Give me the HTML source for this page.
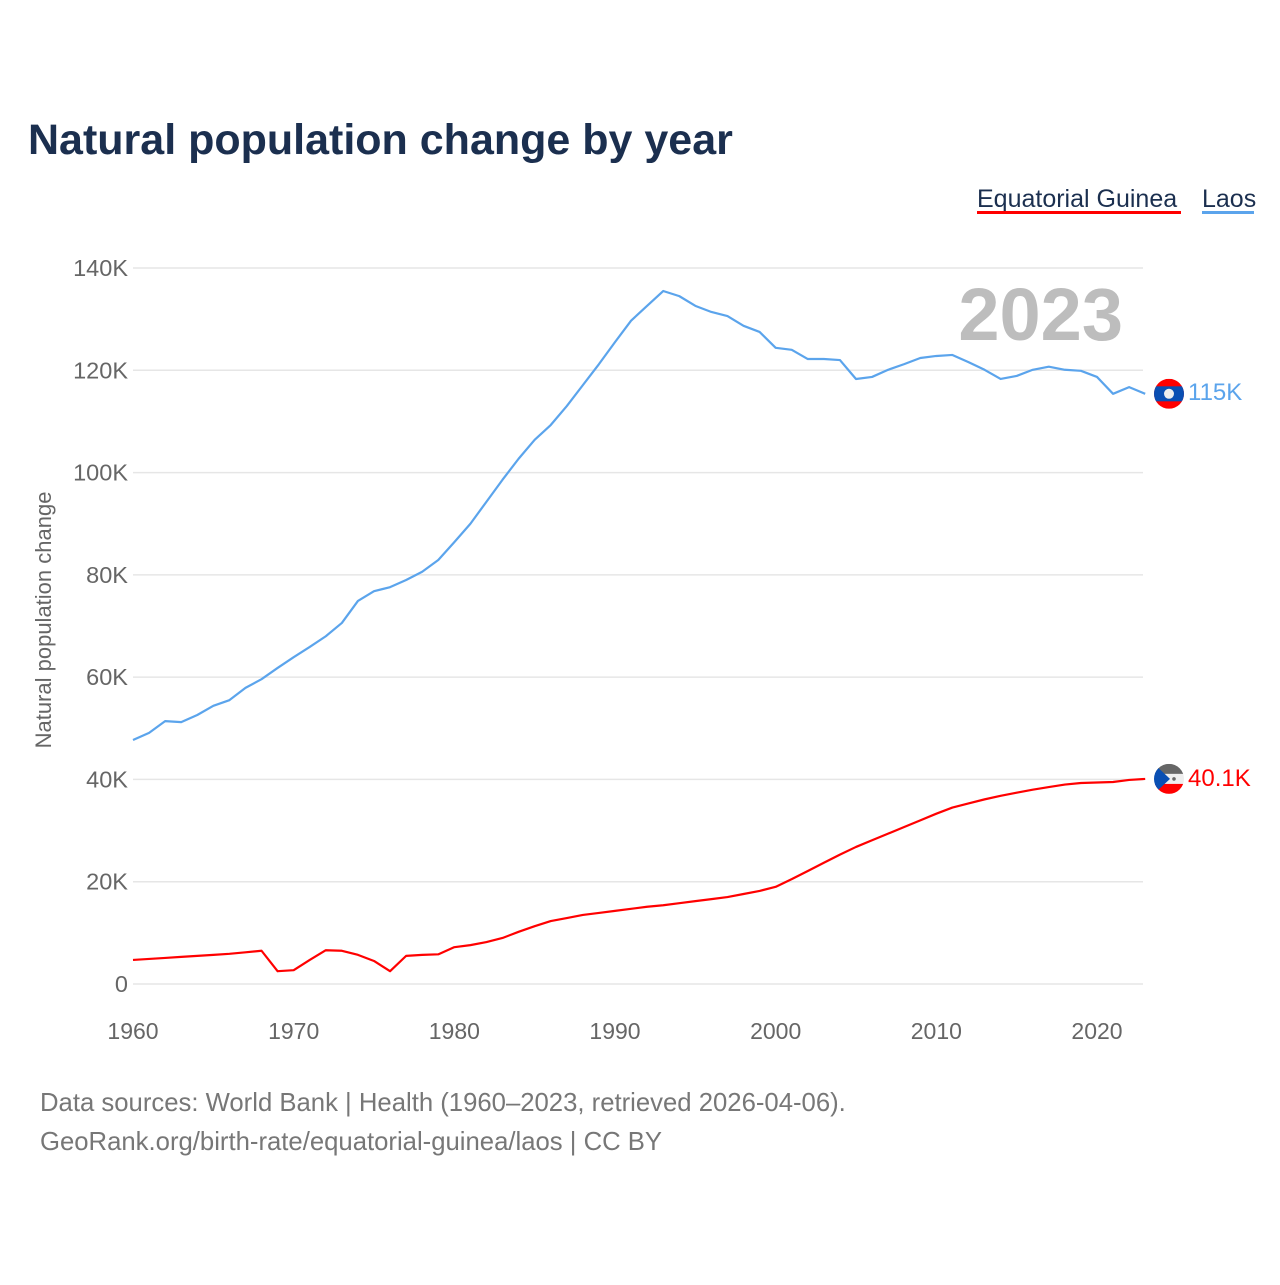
<!DOCTYPE html>
<html><head><meta charset="utf-8"><style>
body{margin:0;background:#fff;width:1280px;height:1280px;overflow:hidden;font-family:"Liberation Sans",sans-serif;}
</style></head><body>
<svg width="1280" height="1280" xmlns="http://www.w3.org/2000/svg">
<text x="28" y="154" font-size="43" font-weight="bold" fill="#1b2f4f">Natural population change by year</text>
<g><text x="977" y="207" font-size="25" fill="#1b2f4f">Equatorial Guinea</text><rect x="977" y="211" width="204" height="3" fill="#ff0000"/></g>
<g><text x="1202" y="207" font-size="25" fill="#1b2f4f">Laos</text><rect x="1202" y="211" width="52" height="3" fill="#5ba4ec"/></g>
<g id="grid"></g>
<text x="1123" y="340" font-size="74" font-weight="bold" fill="#bdbdbd" text-anchor="end">2023</text>
<text transform="translate(51,620) rotate(-90)" font-size="22" fill="#666" text-anchor="middle">Natural population change</text>
<g id="series"></g>
<g id="ends"></g>
<text x="40" y="1111" font-size="25.7" fill="#777">Data sources: World Bank | Health (1960–2023, retrieved 2026-04-06).</text>
<text x="40" y="1150" font-size="25.7" fill="#777">GeoRank.org/birth-rate/equatorial-guinea/laos | CC BY</text>
</svg>
<script>
const years=[];for(let y=1960;y<=2023;y++)years.push(y);
const laos=[47.7,49.1,51.4,51.2,52.6,54.4,55.5,57.9,59.6,61.8,63.9,65.9,68.0,70.6,74.9,76.8,77.6,79.0,80.6,82.9,86.4,90.0,94.3,98.6,102.7,106.4,109.3,113.0,117.1,121.2,125.5,129.7,132.6,135.5,134.5,132.6,131.4,130.6,128.7,127.5,124.4,124.0,122.2,122.2,122.0,118.3,118.7,120.1,121.2,122.4,122.8,123.0,121.6,120.1,118.3,118.9,120.1,120.7,120.1,119.9,118.7,115.4,116.7,115.4];
const eqg=[4.7,4.9,5.1,5.3,5.5,5.7,5.9,6.2,6.5,2.5,2.7,4.7,6.6,6.5,5.7,4.5,2.5,5.5,5.7,5.8,7.2,7.6,8.2,9.0,10.2,11.3,12.3,12.9,13.5,13.9,14.3,14.7,15.1,15.4,15.8,16.2,16.6,17.0,17.6,18.2,19.0,20.5,22.1,23.7,25.3,26.8,28.1,29.4,30.7,32.0,33.3,34.5,35.3,36.1,36.8,37.4,38.0,38.5,39.0,39.3,39.4,39.5,39.9,40.1];
const yTicks=[0,20,40,60,80,100,120,140];
const xTicks=[1960,1970,1980,1990,2000,2010,2020];
const NS="http://www.w3.org/2000/svg";
const X=y=>133+(y-1960)*(964/60);
const Y=v=>984-v*(716/140);
function mk(t,a,p){const e=document.createElementNS(NS,t);for(const k in a)e.setAttribute(k,a[k]);p.appendChild(e);return e;}
const grid=document.getElementById('grid');
yTicks.forEach(v=>{
 const l=mk('line',{x1:133,x2:1143,y1:Y(v),y2:Y(v),stroke:'#e6e6e6','stroke-width':1.5},grid);
 
 
 const t=mk('text',{x:128,y:Y(v)+8,'font-size':23.5,fill:'#666','text-anchor':'end'},grid);
 t.textContent=v===0?'0':v+'K';
 
 
});
xTicks.forEach(v=>{
 const t=mk('text',{x:X(v),y:1039,'font-size':23,fill:'#666','text-anchor':'middle'},grid);
 t.textContent=v;
 
 
});
const ser=document.getElementById('series');
function line(d,c,n){
 const p=mk('polyline',{points:d.map((v,i)=>X(years[i])+','+Y(v)).join(' '),fill:'none',stroke:c,'stroke-width':2.2,'stroke-linejoin':'round'},ser);
 
 
}
line(laos,'#5ba4ec','line-laos');
line(eqg,'#ff0000','line-equatorial-guinea');
const ends=document.getElementById('ends');
const lv=laos[laos.length-1],ev=eqg[eqg.length-1];
const ly=Y(lv),ey=Y(ev),fx=1169;
const lf=mk('g',{},ends);


const cp1=mk('clipPath',{id:'c1'},lf);mk('circle',{cx:fx,cy:ly,r:15},cp1);
const lg=mk('g',{'clip-path':'url(#c1)'},lf);
mk('rect',{x:fx-15,y:ly-15,width:30,height:30,fill:'#ff0000'},lg);
mk('rect',{x:fx-15,y:ly-7.5,width:30,height:15,fill:'#0a4fb3'},lg);
mk('circle',{cx:fx,cy:ly,r:5,fill:'#eee'},lg);
const lt=mk('text',{x:1188,y:ly+6,'font-size':24,fill:'#5ba4ec'},ends);
lt.textContent=Math.round(lv)+'K';


const ef=mk('g',{},ends);


const cp=mk('clipPath',{id:'c2'},ef);mk('circle',{cx:fx,cy:ey,r:15},cp);
const eg=mk('g',{'clip-path':'url(#c2)'},ef);
mk('rect',{x:fx-15,y:ey-15,width:30,height:10,fill:'#666'},eg);
mk('rect',{x:fx-15,y:ey-5,width:30,height:10,fill:'#eee'},eg);
mk('rect',{x:fx-15,y:ey+5,width:30,height:10,fill:'#ff0000'},eg);
mk('polygon',{points:(fx-15)+','+(ey-15)+' '+(fx+1)+','+ey+' '+(fx-15)+','+(ey+15),fill:'#0a4fb3'},eg);
mk('circle',{cx:fx+5,cy:ey,r:1.8,fill:'#666'},eg);
const et=mk('text',{x:1188,y:ey+7,'font-size':24,fill:'#ff0000'},ends);
et.textContent=ev.toFixed(1)+'K';


</script>
</body></html>
